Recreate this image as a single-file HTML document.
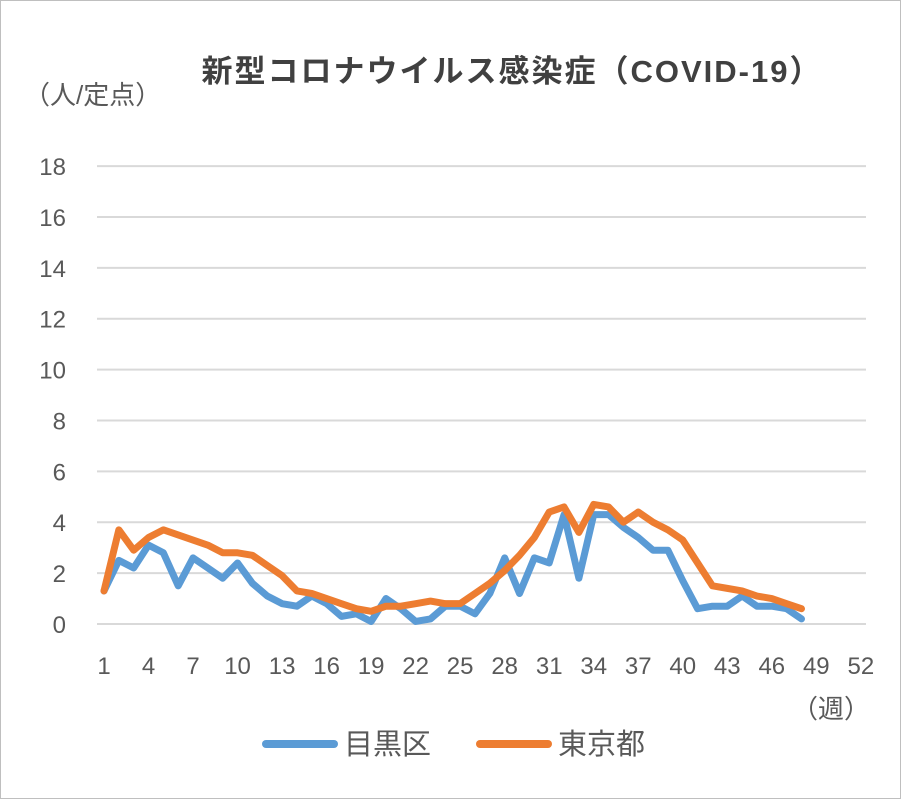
<!DOCTYPE html>
<html><head><meta charset="utf-8"><style>
body{margin:0;background:#fff;}
svg{display:block;font-family:"Liberation Sans","Noto Sans CJK JP",sans-serif;}
</style></head><body>
<svg id="c" width="901" height="799" xmlns="http://www.w3.org/2000/svg">
<rect x="0.5" y="0.5" width="900" height="798" fill="#fff" stroke="#bfbfbf"/>
<text x="512" y="82" text-anchor="middle" font-size="31" font-weight="bold" letter-spacing="2" fill="#404040">新型コロナウイルス感染症（COVID-19）</text>
<text x="24" y="104" font-size="26" fill="#595959">（人/定点）</text>
<text x="792" y="718" font-size="26" fill="#595959">（週）</text>
<g id="g"></g>
<line x1="266" y1="744" x2="334" y2="744" stroke="#5b9bd5" stroke-width="8" stroke-linecap="round"/>
<text x="344" y="754" font-size="29" fill="#595959">目黒区</text>
<line x1="480" y1="744" x2="548" y2="744" stroke="#ed7d31" stroke-width="8" stroke-linecap="round"/>
<text x="558" y="754" font-size="29" fill="#595959">東京都</text>
</svg>
<script>
var g=document.getElementById('g'),s='';
function Y(v){return 624-v*25.44;}function X(w){return 104+(w-1)*14.84;}
for(var i=0;i<=18;i+=2){s+='<line x1="97" x2="866" y1="'+Y(i)+'" y2="'+Y(i)+'" stroke="#d9d9d9" stroke-width="2"/>';
s+='<text x="66" y="'+(Y(i)+9)+'" text-anchor="end" font-size="24" fill="#595959">'+i+'</text>';}
for(var w=1;w<=52;w+=3)s+='<text x="'+X(w)+'" y="674" text-anchor="middle" font-size="24" fill="#595959">'+w+'</text>';
var b=[1.3,2.5,2.2,3.1,2.8,1.5,2.6,2.2,1.8,2.4,1.6,1.1,0.8,0.7,1.1,0.8,0.3,0.4,0.1,1.0,0.6,0.1,0.2,0.7,0.7,0.4,1.2,2.6,1.2,2.6,2.4,4.3,1.8,4.3,4.3,3.8,3.4,2.9,2.9,1.7,0.6,0.7,0.7,1.1,0.7,0.7,0.6,0.2];
var o=[1.3,3.7,2.9,3.4,3.7,3.5,3.3,3.1,2.8,2.8,2.7,2.3,1.9,1.3,1.2,1.0,0.8,0.6,0.5,0.7,0.7,0.8,0.9,0.8,0.8,1.2,1.6,2.1,2.7,3.4,4.4,4.6,3.6,4.7,4.6,4.0,4.4,4.0,3.7,3.3,2.4,1.5,1.4,1.3,1.1,1.0,0.8,0.6];
function p(a,c){return '<polyline fill="none" stroke="'+c+'" stroke-width="7" stroke-linejoin="round" stroke-linecap="round" points="'+a.map(function(v,i){return X(i+1)+','+Y(v)}).join(' ')+'"/>';}
s+=p(b,'#5b9bd5')+p(o,'#ed7d31');
g.innerHTML=s;
</script>
</body></html>
